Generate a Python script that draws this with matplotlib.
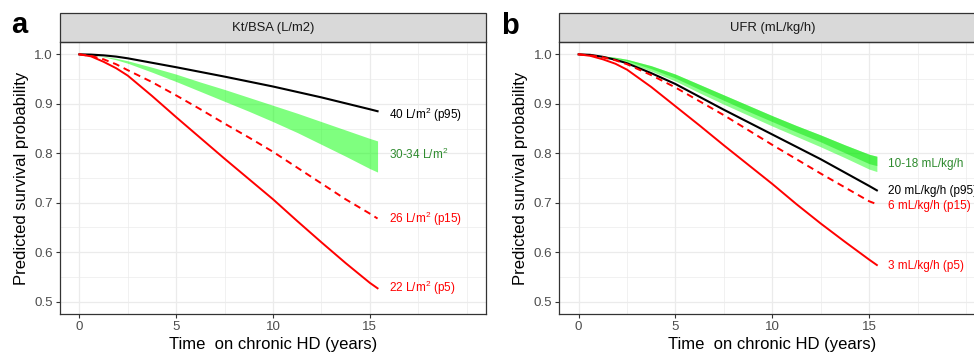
import numpy as np
import matplotlib.pyplot as plt
from matplotlib.patches import Rectangle

plt.rcParams['font.family'] = ['Liberation Sans', 'DejaVu Sans']
plt.rcParams['mathtext.fontset'] = 'custom'
plt.rcParams['mathtext.rm'] = 'Liberation Sans'
plt.rcParams['mathtext.it'] = 'Liberation Sans'
plt.rcParams['mathtext.default'] = 'rm'

# time points (years)
t = [0, 0.6, 1.25, 1.9, 2.5, 3.75, 5, 6.25, 7.5, 8.75, 10, 11.25, 12.5, 13.75, 15, 15.4]

# panel a: Kt/BSA
a_p95 = [1.0, 0.9995, 0.998, 0.9955, 0.992, 0.983, 0.974, 0.9645, 0.955, 0.945,
         0.935, 0.924, 0.913, 0.901, 0.889, 0.885]
a_band_hi = [1.0, 0.999, 0.996, 0.992, 0.987, 0.974, 0.960, 0.944, 0.929, 0.913,
             0.897, 0.881, 0.864, 0.847, 0.830, 0.825]
a_band_lo = [1.0, 0.999, 0.995, 0.989, 0.982, 0.964, 0.945, 0.925, 0.905, 0.885,
             0.864, 0.842, 0.818, 0.794, 0.769, 0.762]
a_p15 = [1.0, 0.997, 0.990, 0.980, 0.968, 0.944, 0.917, 0.889, 0.860, 0.832,
         0.803, 0.771, 0.739, 0.707, 0.678, 0.668]
a_p5 = [1.0, 0.996, 0.985, 0.972, 0.957, 0.916, 0.873, 0.831, 0.789, 0.748,
        0.707, 0.663, 0.620, 0.578, 0.538, 0.527]

# panel b: UFR
b_p95 = [1.0, 0.999, 0.995, 0.989, 0.982, 0.962, 0.940, 0.914, 0.888, 0.863,
         0.838, 0.813, 0.788, 0.761, 0.734, 0.725]
b_band_hi = [1.0, 0.999, 0.997, 0.994, 0.990, 0.977, 0.960, 0.939, 0.918, 0.897,
             0.876, 0.856, 0.837, 0.817, 0.798, 0.794]
b_band_mid = [1.0, 0.999, 0.996, 0.992, 0.987, 0.971, 0.952, 0.929, 0.907, 0.885,
              0.864, 0.843, 0.823, 0.801, 0.779, 0.775]
b_band_lo = [1.0, 0.999, 0.996, 0.991, 0.984, 0.966, 0.946, 0.922, 0.899, 0.877,
             0.855, 0.834, 0.813, 0.791, 0.768, 0.763]
b_p15 = [1.0, 0.998, 0.994, 0.988, 0.980, 0.958, 0.933, 0.905, 0.877, 0.847,
         0.817, 0.788, 0.759, 0.731, 0.703, 0.697]
b_p5 = [1.0, 0.997, 0.990, 0.981, 0.969, 0.934, 0.895, 0.856, 0.816, 0.777,
        0.738, 0.697, 0.658, 0.621, 0.585, 0.574]

labels_a = ['40 L/m$^2$ (p95)', '30-34 L/m$^2$', '26 L/m$^2$ (p15)', '22 L/m$^2$ (p5)']
label_y_a = [0.877, 0.798, 0.667, 0.528]
labels_b = ['10-18 mL/kg/h', '20 mL/kg/h (p95)', '6 mL/kg/h (p15)', '3 mL/kg/h (p5)']
label_y_b = [0.779, 0.724, 0.694, 0.572]

RED = '#FF0000'
DKGREEN = '#2E8B2E'

fig = plt.figure(figsize=(9.74, 3.58), dpi=100)
W, H = 974, 358


def setup(ax, title):
    ax.set_xlim(-1, 21)
    ax.set_ylim(0.475, 1.025)
    ax.set_xticks([0, 5, 10, 15])
    ax.set_xticks([2.5, 7.5, 12.5, 17.5, 20], minor=True)
    ax.set_yticks([0.5, 0.6, 0.7, 0.8, 0.9, 1.0])
    ax.set_yticks([0.55, 0.65, 0.75, 0.85, 0.95], minor=True)
    ax.set_yticklabels(['0.5', '0.6', '0.7', '0.8', '0.9', '1.0'])
    ax.grid(which='major', color='#EBEBEB', lw=0.9)
    ax.grid(which='minor', color='#EBEBEB', lw=0.5)
    ax.set_axisbelow(True)
    for s in ax.spines.values():
        s.set_color('#333333')
        s.set_linewidth(0.9)
    ax.tick_params(which='major', length=3, width=0.8, color='#333333',
                   labelsize=9.6, labelcolor='#4D4D4D', pad=2)
    ax.tick_params(which='minor', length=0)
    ax.set_xlabel('Time  on chronic HD (years)', fontsize=12, color='black', labelpad=3)
    ax.set_ylabel('Predicted survival probability', fontsize=12, color='black', labelpad=4)
    # facet strip
    strip = Rectangle((0, 1.0), 1, 29 / 272, transform=ax.transAxes, clip_on=False,
                      facecolor='#D9D9D9', edgecolor='#333333', lw=0.9)
    ax.add_patch(strip)
    ax.text(0.5, 1.0 + 14.5 / 272, title, transform=ax.transAxes, ha='center',
            va='center', fontsize=9.4, color='#1A1A1A')


# panel a
axa = fig.add_axes([60 / W, 1 - 314 / H, 426 / W, 272 / H])
setup(axa, 'Kt/BSA (L/m2)')
axa.fill_between(t, a_band_lo, a_band_hi, color='#00FF00', alpha=0.5, lw=0)
axa.plot(t, a_p95, color='black', lw=1.5)
axa.plot(t, a_p15, color=RED, lw=1.4, dashes=(3.5, 2.5))
axa.plot(t, a_p5, color=RED, lw=1.4)
for lab, yy, c in zip(labels_a, label_y_a, ['black', DKGREEN, RED, RED]):
    axa.text(16.0, yy, lab, color=c, fontsize=8.5, va='center', ha='left')

# panel b
axb = fig.add_axes([559.3 / W, 1 - 314 / H, 426 / W, 272 / H])
setup(axb, 'UFR (mL/kg/h)')
axb.fill_between(t, b_band_lo, b_band_hi, color='#00FF00', alpha=0.45, lw=0)
axb.fill_between(t, b_band_mid, b_band_hi, color='#00E000', alpha=0.45, lw=0)
axb.plot(t, b_p95, color='black', lw=1.5)
axb.plot(t, b_p15, color=RED, lw=1.4, dashes=(3.5, 2.5))
axb.plot(t, b_p5, color=RED, lw=1.4)
for lab, yy, c in zip(labels_b, label_y_b, [DKGREEN, 'black', RED, RED]):
    axb.text(16.0, yy, lab, color=c, fontsize=8.5, va='center', ha='left', clip_on=False)

fig.text(11 / W, 1 - 33 / H, 'a', fontsize=21, fontweight='bold', ha='left', va='baseline')
fig.text(501 / W, 1 - 34 / H, 'b', fontsize=21, fontweight='bold', ha='left', va='baseline')

fig.savefig('out.png', dpi=100)
